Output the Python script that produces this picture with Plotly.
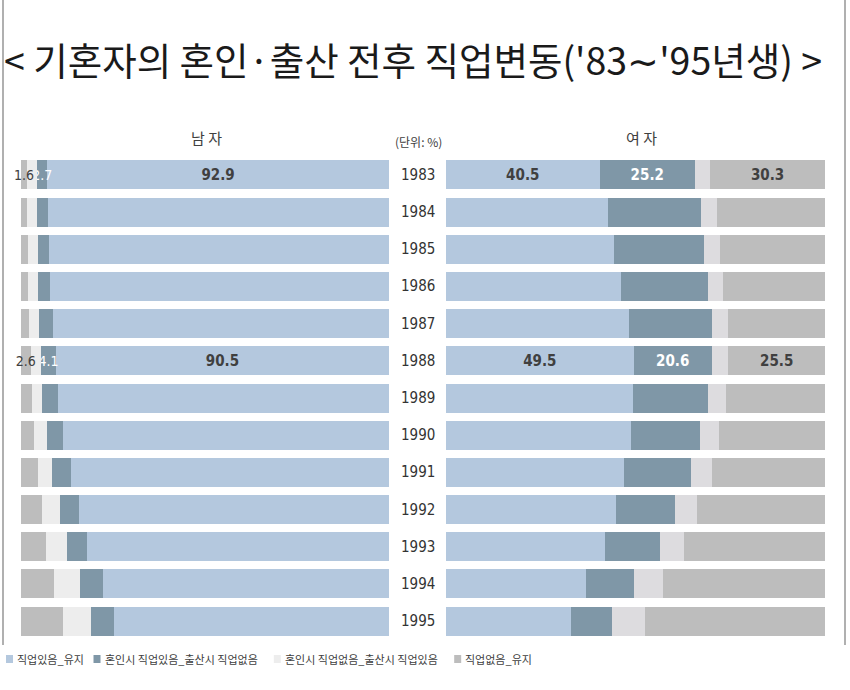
import plotly.graph_objects as go
from plotly.subplots import make_subplots

years = ["1983", "1984", "1985", "1986", "1987", "1988", "1989",
         "1990", "1991", "1992", "1993", "1994", "1995"]

series_names = ["직업있음_유지", "혼인시 직업있음_출산시 직업없음",
                "혼인시 직업없음_출산시 직업있음", "직업없음_유지"]

# 남자 (male)
male_keep = [92.9, 92.7, 92.3, 92.0, 91.4, 90.5, 90.0, 88.5, 86.4, 84.2, 82.2, 77.7, 74.6]
male_quit = [2.7, 2.9, 3.2, 3.4, 3.6, 4.1, 4.2, 4.5, 5.1, 5.2, 5.3, 6.4, 6.4]
male_join = [2.8, 2.7, 2.7, 2.6, 2.7, 2.8, 2.7, 3.4, 4.0, 4.8, 5.7, 6.9, 7.5]
male_none = [1.6, 1.7, 1.8, 2.0, 2.3, 2.6, 3.1, 3.6, 4.5, 5.8, 6.8, 9.0, 11.5]

# 여자 (female)
female_keep = [40.5, 42.7, 44.3, 46.2, 48.4, 49.5, 49.3, 48.7, 47.0, 44.8, 42.0, 37.0, 32.9]
female_quit = [25.2, 24.7, 23.8, 22.8, 21.7, 20.6, 19.9, 18.2, 17.7, 15.7, 14.4, 12.6, 10.8]
female_join = [4.0, 4.1, 4.2, 4.2, 4.2, 4.4, 4.6, 5.2, 5.5, 5.8, 6.3, 7.6, 8.9]
female_none = [30.3, 28.5, 27.7, 26.8, 25.7, 25.5, 26.2, 27.9, 29.8, 33.7, 37.3, 42.8, 47.4]

labelled_years = ["1983", "1988"]

title_text = "< 기혼자의 혼인·출산 전후 직업변동('83∼'95년생) >"
male_title = "남 자"
female_title = "여 자"
unit_text = "(단위: %)"

W, H = 850, 690
KFONT = "Noto Sans CJK KR"
NFONT = "DejaVu Sans Condensed, Noto Sans CJK KR"

col_keep = "#B4C8DE"
col_quit = "#7F97A7"
col_join_m = "#EDEDED"
col_join_f = "#DDDCDF"
col_none = "#BDBDBD"
legend_cols = [col_keep, col_quit, col_join_m, col_none]


def labels(vals, show=True):
    return [f"{v:.1f}" if (show and y in labelled_years) else "" for v, y in zip(vals, years)]


fig = make_subplots(rows=1, cols=2, horizontal_spacing=0.05)

# (values, name, colour, text colour, labelled, text size, text weight)
male_specs = [
    (male_keep, series_names[0], col_keep, "#404040", True, 15, "bold"),
    (male_quit, series_names[1], col_quit, "#FFFFFF", True, 14, "normal"),
    (male_join, series_names[2], col_join_m, "#404040", False, 14, "normal"),
    (male_none, series_names[3], col_none, "#404040", True, 14, "normal"),
]
female_specs = [
    (female_keep, series_names[0], col_keep, "#404040", True, 15, "bold"),
    (female_quit, series_names[1], col_quit, "#FFFFFF", True, 15, "bold"),
    (female_join, series_names[2], col_join_f, "#404040", False, 15, "bold"),
    (female_none, series_names[3], col_none, "#404040", True, 15, "bold"),
]

for col_idx, specs in ((1, male_specs), (2, female_specs)):
    for vals, name, col, tcol, show, tsize, tweight in specs:
        fig.add_trace(go.Bar(
            x=vals, y=years, orientation="h", name=name,
            marker=dict(color=col, line=dict(width=0)),
            text=labels(vals, show), textposition="inside", insidetextanchor="middle",
            textangle=0, constraintext="none", cliponaxis=False,
            textfont=dict(family=NFONT, size=tsize, color=tcol, weight=tweight),
            showlegend=False, legendgroup=name, hoverinfo="x+y+name",
        ), row=1, col=col_idx)

ydom = [1 - 639.6 / H, 1 - 156.4 / H]
axis_common = dict(showgrid=False, zeroline=False, showticklabels=False, showline=False,
                   ticks="", fixedrange=True)

fig.update_layout(
    width=W, height=H,
    margin=dict(l=0, r=0, t=0, b=0),
    paper_bgcolor="white", plot_bgcolor="white",
    barmode="stack", bargap=0.22, showlegend=False,
    font=dict(family=KFONT),
)
fig.update_xaxes(axis_common)
fig.update_yaxes(axis_common)
fig.update_xaxes(domain=[21 / W, 389 / W], range=[100, 0], row=1, col=1)
fig.update_xaxes(domain=[446 / W, 825 / W], range=[0, 100], row=1, col=2)
fig.update_yaxes(domain=ydom, type="category", categoryorder="array", categoryarray=years,
                 autorange=False, range=[len(years) - 0.5, -0.5])

annotations = [
    dict(text=title_text, x=413 / W, y=1 - 58 / H, xref="paper", yref="paper",
         xanchor="center", yanchor="middle",
         showarrow=False, font=dict(family=KFONT, size=37.5, color="#1a1a1a")),
    dict(text=male_title, x=206 / W, y=1 - 137 / H, xref="paper", yref="paper",
         xanchor="center", yanchor="middle",
         showarrow=False, font=dict(family=KFONT, size=15, color="#404040")),
    dict(text=female_title, x=641 / W, y=1 - 137 / H, xref="paper", yref="paper",
         xanchor="center", yanchor="middle",
         showarrow=False, font=dict(family=KFONT, size=15, color="#404040")),
    dict(text=unit_text, x=418 / W, y=1 - 142 / H, xref="paper", yref="paper",
         xanchor="center", yanchor="middle",
         showarrow=False, font=dict(family=KFONT, size=12, color="#404040")),
]
for i, yr in enumerate(years):
    annotations.append(dict(text=yr, x=418 / W, y=i, xref="paper", yref="y2",
                            xanchor="center", yanchor="middle", showarrow=False,
                            font=dict(family=NFONT, size=15, color="#333333")))

# compact legend along the bottom
LFS = 11
legend_y = 1 - 659 / H
shapes = []
lx = 6
for name, col in zip(series_names, legend_cols):
    n_sp = name.count(" ")
    n_us = name.count("_")
    n_h = len(name) - n_sp - n_us
    tw = n_h * LFS + n_sp * 0.22 * LFS + n_us * 0.5 * LFS
    shapes.append(dict(type="rect", xref="paper", yref="paper",
                       x0=lx / W, x1=(lx + 7) / W, y0=legend_y - 4 / H, y1=legend_y + 4 / H,
                       fillcolor=col, line=dict(width=0)))
    annotations.append(dict(text=name, x=(lx + 9) / W, y=legend_y, xref="paper", yref="paper",
                            xanchor="left", yanchor="middle", showarrow=False,
                            font=dict(family=KFONT, size=LFS, color="#404040")))
    lx += 9 + tw + 7

shapes += [
    dict(type="line", xref="paper", yref="paper", x0=3 / W, x1=3 / W, y0=1 - 645 / H, y1=1,
         line=dict(color="#B0B0B0", width=2)),
    dict(type="line", xref="paper", yref="paper", x0=845 / W, x1=845 / W, y0=1 - 645 / H, y1=1,
         line=dict(color="#B0B0B0", width=2)),
]
fig.update_layout(annotations=annotations, shapes=shapes)

fig.write_html("out.html", config={"displayModeBar": False},
               post_script="document.body.style.margin='0';document.body.style.overflow='hidden';")
